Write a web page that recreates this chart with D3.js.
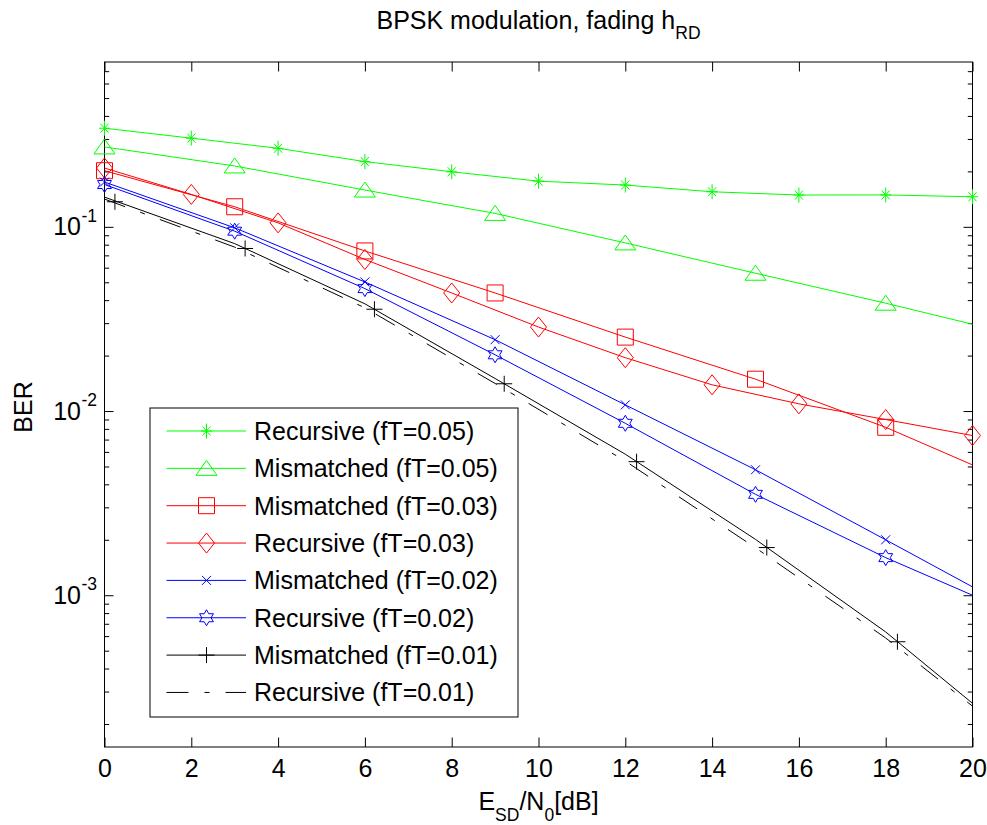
<!DOCTYPE html>
<html>
<head>
<meta charset="utf-8">
<script src="https://cdn.jsdelivr.net/npm/d3@7"></script>
<style>
  body { margin: 0; background: #fff; }
  svg { display: block; }
  text { font-family: "Liberation Sans", Arial, sans-serif; fill: #000; }
</style>
</head>
<body>
<svg id="chart" width="987" height="825"></svg>
<script>
"use strict";

// x values (Es/N0 in dB)
const snrEven = [0, 2, 4, 6, 8, 10, 12, 14, 16, 18, 20];
const snrThree = [0, 3, 6, 9, 12, 15, 18, 20];
const markThree = [0, 3, 6, 9, 12, 15, 18];

// BER values
const berRec05 = [0.343, 0.303, 0.267, 0.226, 0.199, 0.177, 0.1686, 0.155, 0.1488, 0.149, 0.1456];
const berMis05 = [0.2715, 0.214, 0.1584, 0.1183, 0.0818, 0.056, 0.0385, 0.0296];
const berMis03 = [0.2017, 0.1285, 0.074, 0.04375, 0.0252, 0.01489, 0.00816, 0.0051];
const berRec03 = [0.2086, 0.150, 0.1051, 0.0665, 0.04375, 0.02857, 0.01948, 0.01388, 0.01094, 0.00899, 0.00736];
const berMis02 = [0.1751, 0.0988, 0.0502, 0.0244, 0.0108, 0.0048, 0.0020, 0.00111];
const berRec02 = [0.1697, 0.0947, 0.0462, 0.0202, 0.00858, 0.00353, 0.0016, 0.0010];
const berMis01 = [0.145, 0.0811, 0.0382, 0.01502, 0.00583, 0.00201, 0.000632, 0.000259];
const berRec01 = [0.1415, 0.0776, 0.03634, 0.01411, 0.00535, 0.00181, 0.000586, 0.00025];
// the black "+" markers sit a little to the right of the grid
const mis01MarkX = [0.24, 3.24, 6.22, 9.21, 12.26, 15.26, 18.27];
const mis01MarkY = [0.1368, 0.0763, 0.0357, 0.01406, 0.00531, 0.001815, 0.000559];

const xTicks = [0, 2, 4, 6, 8, 10, 12, 14, 16, 18, 20];
const yTickExp = [-1, -2, -3];

const zip = (xs, ys) => xs.map((x, i) => ({ x: x, y: ys[i] }));
const pick = (xs, ys, keep) => zip(xs, ys).filter(p => keep.indexOf(p.x) >= 0);

let series = [
  { label: "Recursive (fT=0.05)", color: "#00ff00", marker: "star",
    line: zip(snrEven, berRec05), marks: zip(snrEven, berRec05) },
  { label: "Mismatched (fT=0.05)", color: "#00ff00", marker: "tri",
    line: zip(snrThree, berMis05), marks: pick(snrThree, berMis05, markThree) },
  { label: "Mismatched (fT=0.03)", color: "#ff0000", marker: "square",
    line: zip(snrThree, berMis03), marks: pick(snrThree, berMis03, markThree) },
  { label: "Recursive (fT=0.03)", color: "#ff0000", marker: "diamond",
    line: zip(snrEven, berRec03), marks: zip(snrEven, berRec03) },
  { label: "Mismatched (fT=0.02)", color: "#0000ff", marker: "x",
    line: zip(snrThree, berMis02), marks: pick(snrThree, berMis02, markThree) },
  { label: "Recursive (fT=0.02)", color: "#0000ff", marker: "hex",
    line: zip(snrThree, berRec02), marks: pick(snrThree, berRec02, markThree) },
  { label: "Mismatched (fT=0.01)", color: "#000000", marker: "plus",
    line: zip(snrThree, berMis01), marks: zip(mis01MarkX, mis01MarkY) },
  { label: "Recursive (fT=0.01)", color: "#000000", marker: null, dash: "22,16,5,16",
    line: zip(snrThree, berRec01), marks: [] }
];

function hexagram(r1, r2) {
  let pts = [];
  for (let i = 0; i < 12; i++) {
    let a = -Math.PI / 2 + i * Math.PI / 6;
    let r = i % 2 ? r2 : r1;
    pts.push((r * Math.cos(a)).toFixed(2) + "," + (r * Math.sin(a)).toFixed(2));
  }
  return "M" + pts.join("L") + "Z";
}

const markerPaths = {
  star: "M0,-7.5V7.5M-5.5,0H5.5M-4,-4.5L4,4.5M-4,4.5L4,-4.5",
  tri: "M0,-8L10.5,7L-10.5,7Z",
  square: "M-8,-8H8V8H-8Z",
  diamond: "M0,-10L8,0L0,10L-8,0Z",
  x: "M-4.5,-4.5L4.5,4.5M-4.5,4.5L4.5,-4.5",
  hex: hexagram(8, 4.6),
  plus: "M0,-8V8M-8,0H8"
};

const plot = { left: 104.5, right: 972.5, top: 62, bottom: 747 };
const FONT = 25;
const SUB = 17.5;

let svg = d3.select("#chart");

let x = d3.scaleLinear().domain([0, 20]).range([plot.left, plot.right]);
let y = d3.scaleLog().domain([1.5e-4, 0.785]).range([plot.bottom, plot.top]);

// minor tick positions on the log axis
let yMinor = [];
[-4, -3, -2, -1].forEach(e => {
  for (let k = 2; k <= 9; k++) {
    let v = k * Math.pow(10, e);
    if (v > 1.5e-4 && v < 0.785) yMinor.push(v);
  }
});
let yMajor = yTickExp.map(e => Math.pow(10, e));

function tickStyle(g) {
  g.select(".domain").remove();
  g.selectAll(".tick line").attr("stroke", "#000").attr("stroke-width", 1);
}

// x axis bottom with labels, top without
svg.append("g")
  .attr("transform", `translate(0,${plot.bottom})`)
  .call(d3.axisBottom(x).tickValues(xTicks).tickSizeInner(-9.5).tickSizeOuter(0).tickPadding(12))
  .call(tickStyle)
  .call(g => g.selectAll(".tick text").attr("font-size", FONT).attr("font-family", null));

svg.append("g")
  .attr("transform", `translate(0,${plot.top})`)
  .call(d3.axisTop(x).tickValues(xTicks).tickSizeInner(-9.5).tickSizeOuter(0).tickFormat(""))
  .call(tickStyle);

// y axis, major and minor ticks on both sides
[[plot.left, d3.axisLeft], [plot.right, d3.axisRight]].forEach(([px, ax]) => {
  svg.append("g")
    .attr("transform", `translate(${px},0)`)
    .call(ax(y).tickValues(yMajor).tickSizeInner(-9).tickSizeOuter(0).tickFormat(""))
    .call(tickStyle);
  svg.append("g")
    .attr("transform", `translate(${px},0)`)
    .call(ax(y).tickValues(yMinor).tickSizeInner(-4.7).tickSizeOuter(0).tickFormat(""))
    .call(tickStyle);
});

// y tick labels 10^-n
let yLab = svg.append("g").selectAll("g").data(yTickExp).enter().append("g");
yLab.append("text")
  .attr("x", 81)
  .attr("y", d => y(Math.pow(10, d)) + 8.5)
  .attr("text-anchor", "end")
  .attr("font-size", FONT)
  .text("10");
yLab.append("text")
  .attr("x", 81.5)
  .attr("y", d => y(Math.pow(10, d)) - 5)
  .attr("font-size", SUB)
  .text(d => d);

// frame
svg.append("rect")
  .attr("x", plot.left).attr("y", plot.top)
  .attr("width", plot.right - plot.left).attr("height", plot.bottom - plot.top)
  .attr("fill", "none").attr("stroke", "#000").attr("stroke-width", 1);

let line = d3.line().x(d => x(d.x)).y(d => y(d.y));

let curves = svg.append("g").selectAll("g").data(series).enter().append("g");
curves.append("path")
  .attr("d", d => line(d.line))
  .attr("fill", "none")
  .attr("stroke", d => d.color)
  .attr("stroke-width", 1)
  .attr("stroke-dasharray", d => d.dash || null);
curves.selectAll(".mk")
  .data(d => d.marks.map(m => ({ x: m.x, y: m.y, color: d.color, marker: d.marker })))
  .enter().append("path")
  .attr("class", "mk")
  .attr("transform", d => `translate(${x(d.x)},${y(d.y)})`)
  .attr("d", d => markerPaths[d.marker])
  .attr("fill", "none")
  .attr("stroke", d => d.color)
  .attr("stroke-width", 1);

// legend
let lg = svg.append("g");
lg.append("rect")
  .attr("x", 150).attr("y", 408).attr("width", 368).attr("height", 309)
  .attr("fill", "#fff").attr("stroke", "#000").attr("stroke-width", 1);

let entry = lg.selectAll(".entry").data(series).enter().append("g")
  .attr("class", "entry")
  .attr("transform", (d, i) => `translate(0,${431 + i * 37.35})`);
entry.append("line")
  .attr("x1", 166.5).attr("x2", 246).attr("y1", 0).attr("y2", 0)
  .attr("stroke", d => d.color).attr("stroke-width", 1)
  .attr("stroke-dasharray", d => d.dash || null);
entry.filter(d => d.marker).append("path")
  .attr("transform", "translate(206.5,0)")
  .attr("d", d => markerPaths[d.marker])
  .attr("fill", "none").attr("stroke", d => d.color).attr("stroke-width", 1);
entry.append("text")
  .attr("x", 254).attr("y", 9)
  .attr("font-size", FONT)
  .text(d => d.label);

// title
let title = svg.append("text")
  .attr("x", (plot.left + plot.right) / 2).attr("y", 28.5)
  .attr("text-anchor", "middle")
  .attr("font-size", FONT);
title.append("tspan").text("BPSK modulation, fading h");
title.append("tspan").attr("font-size", SUB).attr("dy", 10).text("RD");

// x label
let xl = svg.append("text")
  .attr("x", (plot.left + plot.right) / 2).attr("y", 810)
  .attr("text-anchor", "middle")
  .attr("font-size", FONT);
xl.append("tspan").text("E");
xl.append("tspan").attr("font-size", SUB).attr("dy", 11).text("SD");
xl.append("tspan").attr("dy", -11).text("/N");
xl.append("tspan").attr("font-size", SUB).attr("dy", 11).text("0");
xl.append("tspan").attr("dy", -11).text("[dB]");

// y label
svg.append("text")
  .attr("transform", `translate(31.5,407) rotate(-90)`)
  .attr("text-anchor", "middle")
  .attr("font-size", FONT)
  .text("BER");
</script>
</body>
</html>
